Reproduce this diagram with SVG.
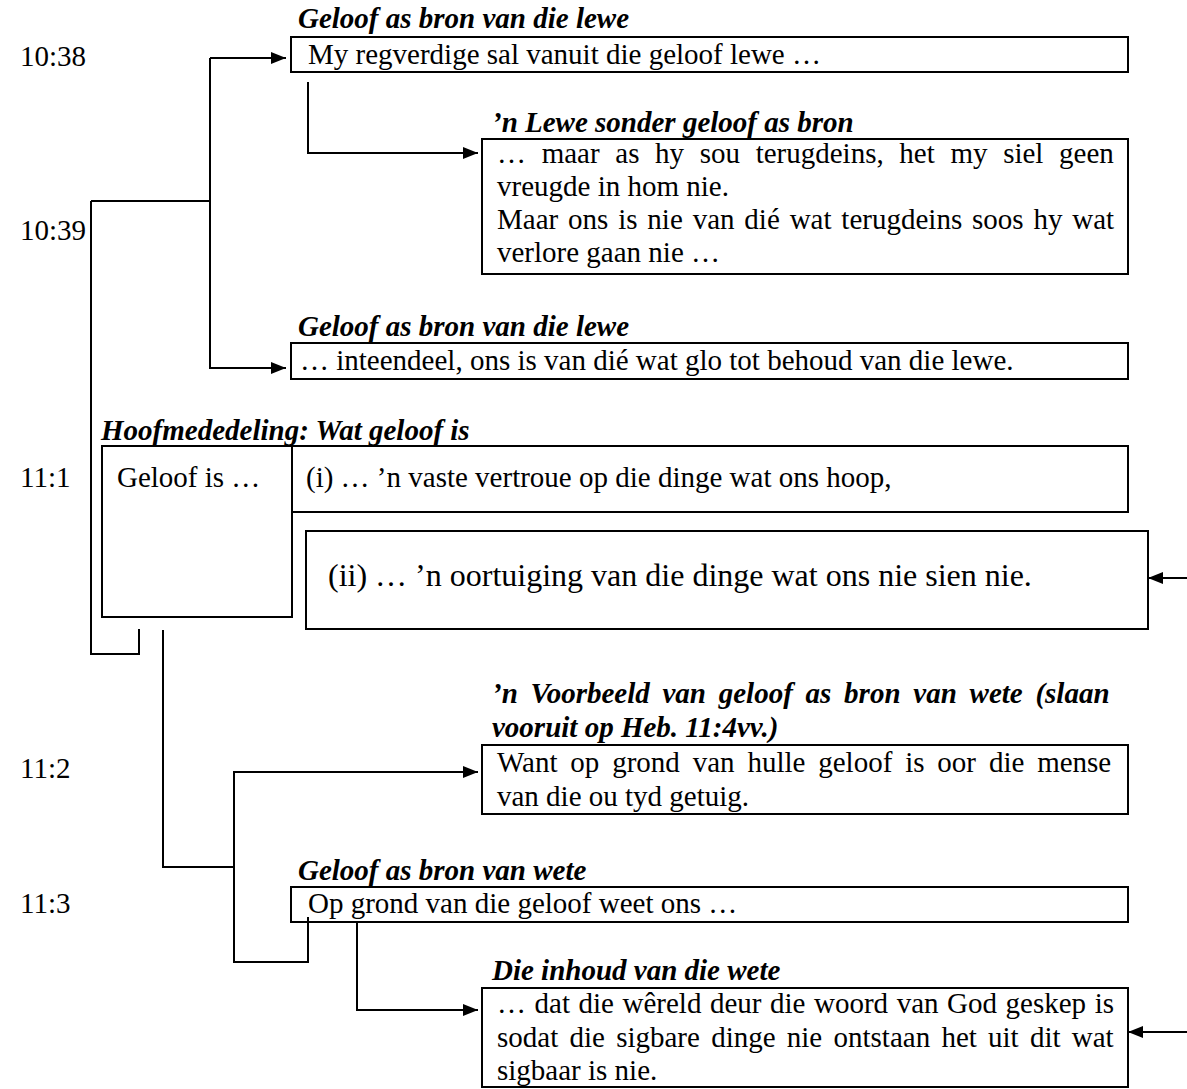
<svg xmlns="http://www.w3.org/2000/svg" width="1187" height="1089" viewBox="0 0 1187 1089">
<style>
text { font-family: "Liberation Serif", "Times New Roman", serif; font-size: 29px; fill: #000; }
.h { font-weight: bold; font-style: italic; }
.big { font-size: 32px; }
.box { fill: none; stroke: #000; stroke-width: 2; }
.ln { fill: none; stroke: #000; stroke-width: 2; }
.arr { marker-end: url(#ah); }
</style>
<defs>
<marker id="ah" markerUnits="userSpaceOnUse" markerWidth="15" markerHeight="12" refX="15" refY="6" orient="auto">
<path d="M0,0 L15,6 L0,12 z" fill="#000"/>
</marker>
</defs>
<rect width="1187" height="1089" fill="#fff"/>

<g id="verses">
<text x="20" y="66">10:38</text>
<text x="20" y="240">10:39</text>
<text x="20" y="487">11:1</text>
<text x="20" y="778">11:2</text>
<text x="20" y="913">11:3</text>
</g>

<g id="node-1038">
<text class="h" x="298" y="28">Geloof as bron van die lewe</text>
<rect class="box" x="291" y="37" width="837" height="35"/>
<text x="308" y="64">My regverdige sal vanuit die geloof lewe …</text>
</g>

<g id="node-1039a">
<text class="h" x="492" y="132">’n Lewe sonder geloof as bron</text>
<rect class="box" x="482" y="139" width="646" height="135"/>
<text x="497" y="163" word-spacing="8.4">… maar as hy sou terugdeins, het my siel geen</text>
<text x="497" y="196">vreugde in hom nie.</text>
<text x="497" y="229" word-spacing="2.6">Maar ons is nie van dié wat terugdeins soos hy wat</text>
<text x="497" y="262">verlore gaan nie …</text>
</g>

<g id="node-1039b">
<text class="h" x="298" y="336">Geloof as bron van die lewe</text>
<rect class="box" x="291" y="343" width="837" height="36"/>
<text x="300" y="370">… inteendeel, ons is van dié wat glo tot behoud van die lewe.</text>
</g>

<g id="node-111">
<text class="h" x="101" y="440">Hoofmededeling: Wat geloof is</text>
<rect class="box" x="102" y="446" width="190" height="171"/>
<text x="117" y="487">Geloof is …</text>
<rect class="box" x="292" y="446" width="836" height="66"/>
<text x="306" y="487">(i) … ’n vaste vertroue op die dinge wat ons hoop,</text>
</g>

<g id="node-111-ii">
<rect class="box" x="306" y="531" width="842" height="98"/>
<text class="big" x="328" y="586">(ii) … ’n oortuiging van die dinge wat ons nie sien nie.</text>
</g>

<g id="node-112">
<text class="h" x="492" y="703" word-spacing="5.5">’n Voorbeeld van geloof as bron van wete (slaan</text>
<text class="h" x="492" y="737">vooruit op Heb. 11:4vv.)</text>
<rect class="box" x="482" y="745" width="646" height="69"/>
<text x="497" y="772" word-spacing="5.6">Want op grond van hulle geloof is oor die mense</text>
<text x="497" y="806">van die ou tyd getuig.</text>
</g>

<g id="node-113">
<text class="h" x="298" y="880">Geloof as bron van wete</text>
<rect class="box" x="291" y="887" width="837" height="35"/>
<text x="308" y="913">Op grond van die geloof weet ons …</text>
</g>

<g id="node-113b">
<text class="h" x="492" y="980">Die inhoud van die wete</text>
<rect class="box" x="482" y="988" width="646" height="99"/>
<text x="497" y="1013" word-spacing="1.3">… dat die wêreld deur die woord van God geskep is</text>
<text x="497" y="1047" word-spacing="4">sodat die sigbare dinge nie ontstaan het uit dit wat</text>
<text x="497" y="1080">sigbaar is nie.</text>
</g>

<g id="connectors">
<path class="ln arr" d="M210,58 H286"/>
<path class="ln arr" d="M210,58 V368 H286"/>
<path class="ln" d="M91,201 H210"/>
<path class="ln" d="M139,629 V654 H91 V201"/>
<path class="ln arr" d="M308,82 V153 H478"/>
<path class="ln arr" d="M1187,578 H1148"/>
<path class="ln" d="M163,630 V867 H234"/>
<path class="ln arr" d="M308,917 V962 H234 V772 H478"/>
<path class="ln arr" d="M357,921 V1010 H478"/>
<path class="ln arr" d="M1187,1032 H1128"/>
</g>
</svg>
